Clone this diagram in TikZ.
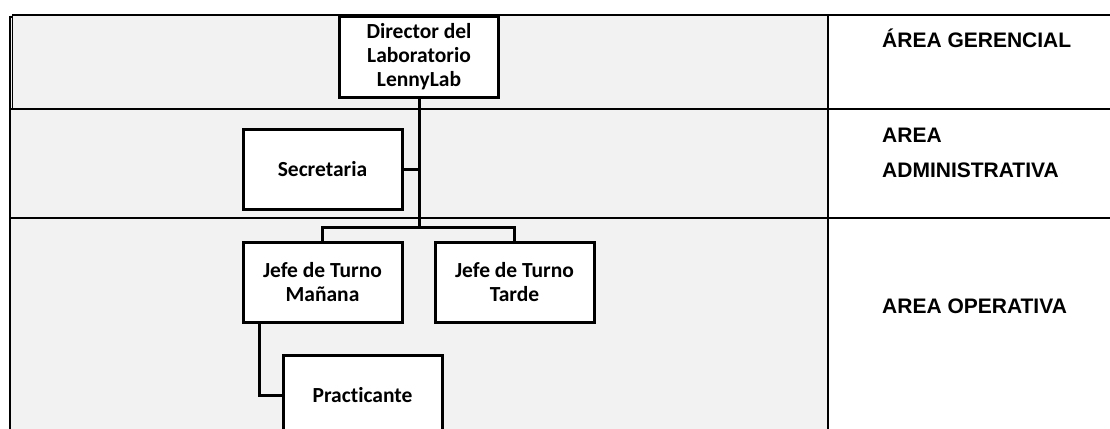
\documentclass[tikz,border=0pt]{standalone}
\usepackage{fontspec}
\newfontfamily\calfont{Carlito}[BoldFont={Carlito Bold}, Ligatures={NoCommon}]
\newfontfamily\arlfont{Liberation Sans}[BoldFont={Liberation Sans Bold}]
\definecolor{panelgray}{HTML}{F2F2F2}
\tikzset{
  orgbox/.style={draw=black, line width=3pt, fill=white, minimum width=159pt, minimum height=80pt,
    inner sep=0pt, align=center, font=\calfont\bfseries\fontsize{21.5pt}{24pt}\selectfont},
  link/.style={draw=black, line width=3pt},
  gridline/.style={draw=black, line width=2pt},
  arealabel/.style={anchor=base west, inner sep=0pt, font=\arlfont\bfseries\fontsize{21pt}{25pt}\selectfont}
}
\begin{document}
\begin{tikzpicture}[x=1pt,y=-1pt]
\useasboundingbox (0,0) rectangle (1110,428);
\clip (0,0) rectangle (1110,428);
% background panel
\fill[panelgray] (10,15) rectangle (828,440);
% frame lines
\draw[line width=1.8pt] (12,15) -- (1110,15);
\draw[line width=1.3pt] (12.5,15) -- (12.5,109);
\draw[line width=1.3pt] (9,17) -- (12.5,17);
\draw[line width=2.6pt] (10,17) -- (10,440);
\draw[gridline] (10,109) -- (1110,109);
\draw[gridline] (10,218) -- (1110,218);
\draw[gridline] (828,15) -- (828,440);
% nodes
\node[orgbox] (dir) at (419,57) {Director del\\Laboratorio\\LennyLab};
\node[orgbox] (sec) at (322.5,169.5) {Secretaria};
\node[orgbox] (man) at (322.5,282.5) {Jefe de Turno\\Mañana};
\node[orgbox] (tar) at (514.5,282.5) {Jefe de Turno\\Tarde};
\node[orgbox] (pra) at (362.5,395) {Practicante};
\coordinate (bar) at (419,227);
% connectors
\draw[link] (dir.south) -- (bar);
\draw[link] (sec.east) -- (sec.east -| dir.south);
\draw[link] (man.north) |- (bar) -| (tar.north);
\draw[link] ([xshift=-63.5pt]man.south) |- (pra.west);
% area labels
\node[arealabel] (ag) at (882,47.5) {ÁREA GERENCIAL};
\node[arealabel] (aa1) at (882,142) {AREA};
\node[arealabel] (aa2) at (882,177) {ADMINISTRATIVA};
\node[arealabel] (ao) at (882,313) {AREA OPERATIVA};
\end{tikzpicture}
\end{document}
